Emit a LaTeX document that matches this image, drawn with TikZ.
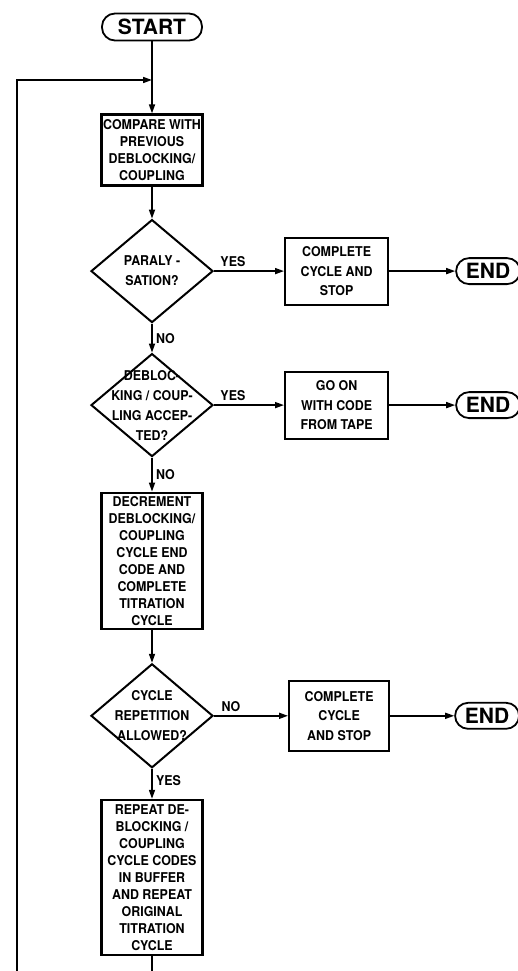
\documentclass[tikz,border=0pt]{standalone}
\usepackage{fontspec}
\newfontfamily\flowfont{TeX Gyre Heros}[FakeStretch=0.92]
\newfontfamily\termfont{TeX Gyre Heros}
\usepackage{tikz}
\usetikzlibrary{arrows.meta,positioning,shapes.geometric}

\begin{document}
\begin{tikzpicture}[
  x=1pt, y=1pt,
  node distance=32pt and 70pt,
  every node/.style={font=\flowfont\bfseries\fontsize{13.5}{17}\selectfont},
  term/.style={draw, line width=1.8pt, rounded corners=13pt, minimum width=100pt, minimum height=27pt, inner sep=0pt, font=\termfont\bfseries\fontsize{21}{21}\selectfont},
  proc/.style={draw, line width=2.2pt, align=center, minimum width=101pt, inner sep=1pt},
  side/.style={proc, minimum width=103pt, minimum height=67pt, font=\flowfont\bfseries\fontsize{13.5}{19.5}\selectfont},
  dec/.style={draw, diamond, line width=2pt, minimum width=122pt, minimum height=103pt, inner sep=0pt},
  inside/.style={align=center, font=\flowfont\bfseries\fontsize{13.5}{20}\selectfont},
  arr/.style={-{Triangle[length=9pt,width=6pt]}, line width=1.6pt}
]
\useasboundingbox (0,0) rectangle (518,-971);
\clip (0,0) rectangle (518,-971);

% main column
\node[term] (start) at (152,-27) {START};
\coordinate (join) at (152,-80);
\node[proc, minimum height=71pt, below=72pt of start] (compare) {COMPARE WITH\\PREVIOUS\\DEBLOCKING/\\COUPLING};
\node[dec, below=of compare, label={[inside]center:{PARALY -\\SATION?}}] (paral) {};
\node[dec, below=29pt of paral, label={[inside]center:{DEBLOC-\\KING / COUP-\\LING ACCEP-\\TED?}}] (accept) {};
\node[proc, minimum height=136pt, below=34pt of accept] (decr) {DECREMENT\\DEBLOCKING/\\COUPLING\\CYCLE END\\CODE AND\\COMPLETE\\TITRATION\\CYCLE};
\node[dec, minimum height=104pt, below=33pt of decr, label={[inside]center:{CYCLE\\REPETITION\\ALLOWED?}}] (repet) {};
\node[proc, minimum height=155pt, below=30pt of repet] (repeat) {REPEAT DE-\\BLOCKING /\\COUPLING\\CYCLE CODES\\IN BUFFER\\AND REPEAT\\ORIGINAL\\TITRATION\\CYCLE};
\coordinate (loopbot) at (17,-995);

% side branches
\node[side, right=of paral] (stop1) {COMPLETE\\CYCLE AND\\STOP};
\node[term, minimum width=64pt, minimum height=26pt, right=66pt of stop1] (end1) {END};
\node[side, right=of accept] (tape) {GO ON\\WITH CODE\\FROM TAPE};
\node[term, minimum width=64pt, minimum height=26pt, right=66pt of tape] (end2) {END};
\node[side, minimum width=100pt, minimum height=70pt, right=74pt of repet] (stop3) {COMPLETE\\CYCLE\\AND STOP};
\node[term, minimum width=64pt, minimum height=26pt, right=64pt of stop3] (end3) {END};

\draw[arr] (start) -- (compare);
\draw[arr] (compare) -- (paral);
\draw[arr] (paral) -- node[right] {NO} (accept);
\draw[arr] (accept) -- node[right] {NO} (decr);
\draw[arr] (decr) -- (repet);
\draw[arr] (repet) -- node[right, pos=0.4] {YES} (repeat);
\draw[arr] (paral) -- node[above, pos=0.27] {YES} (stop1);
\draw[arr] (stop1) -- (end1);
\draw[arr] (accept) -- node[above, pos=0.27] {YES} (tape);
\draw[arr] (tape) -- (end2);
\draw[arr] (repet) -- node[above, pos=0.23] {NO} (stop3);
\draw[arr] (stop3) -- (end3);
\draw[arr] (repeat.south) |- (loopbot) |- (join);
\end{tikzpicture}
\end{document}
